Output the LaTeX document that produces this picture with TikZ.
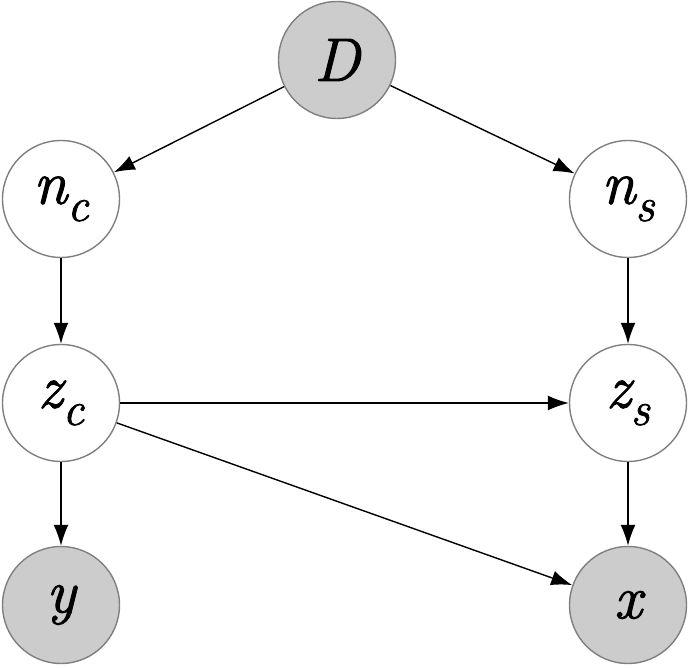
\documentclass[tikz,border=0pt]{standalone}
\usepackage{fontspec}
\setmainfont{Latin Modern Roman}[ItalicFeatures={FakeBold=1.6}]
\usetikzlibrary{arrows.meta}
\newcommand{\sub}[1]{\raisebox{-0.28em}{\fontsize{27}{30}\selectfont #1}}

\begin{document}
\begin{tikzpicture}[x=0.02cm, y=-0.02cm, %
      var/.style={circle, draw=black!50, line width=0.8pt, minimum size=2.34cm, inner sep=0pt, font=\fontsize{35}{40}\selectfont\itshape}, %
      obs/.style={var, fill=black!20}, %
      lat/.style={var, fill=white}, %
      edge/.style={-{Latex[length=4.2mm,width=3mm]}, line width=0.8pt}, %
      ]
    \useasboundingbox (0,0) rectangle (690,668);

    \foreach \a/\kind/\lab/\x/\y in { %
      D/obs/{D}/337/60,%
      nc/lat/{n\sub{c}}/61/199,%
      ns/lat/{n\sub{s}}/628/199,%
      zc/lat/{z\sub{c}}/61/403,%
      zs/lat/{z\sub{s}}/628/403,%
      y/obs/{y}/61/605,%
      x/obs/{x}/628/605%
    }{ %
      \node[\kind] (\a) at (\x,\y) {\lab};
      }

      \foreach \from/\to in { %
        D/nc, D/ns, %
        nc/zc, ns/zs, %
        zc/zs, zc/y, zc/x, %
        zs/x%
      }{ \draw[edge] (\from) -- (\to);
      }
    \end{tikzpicture}
\end{document}
